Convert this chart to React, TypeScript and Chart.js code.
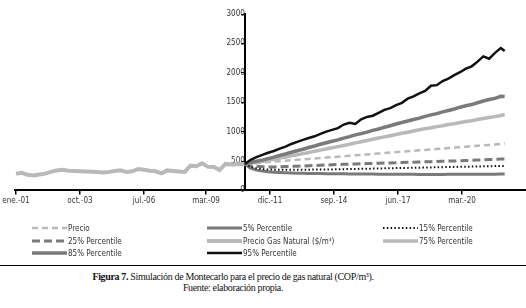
import React, { useEffect, useRef } from "react";
import { Chart, registerables } from "chart.js";

Chart.register(...registerables);

// ---- Data ----
const tickMonths = [0, 33, 66, 98, 131, 164, 197, 230];
const tickLabels = ["ene.-01", "oct.-03", "jul.-06", "mar.-09", "dic.-11", "sep.-14", "jun.-17", "mar.-20"];

const histMonths = [0, 3, 6, 9, 12, 15, 18, 21, 24, 27, 30, 33, 36, 39, 42, 45, 48, 51, 54, 57, 60, 63, 66, 69, 72, 75, 78, 81, 84, 87, 90, 93, 96, 99, 102, 105, 108, 111, 114, 118];
const histPrice = [285, 300, 265, 255, 270, 285, 315, 340, 350, 335, 330, 325, 322, 318, 312, 305, 315, 330, 342, 312, 325, 365, 350, 335, 325, 290, 340, 330, 322, 315, 420, 410, 460, 400, 398, 345, 450, 440, 445, 450];

const simMonths = [118, 121, 124, 127, 130, 133, 136, 139, 142, 145, 148, 151, 154, 157, 160, 163, 166, 169, 172, 175, 178, 181, 184, 187, 190, 193, 196, 199, 202, 205, 208, 211, 214, 217, 220, 223, 226, 229, 232, 235, 238, 241, 244, 247, 250, 252];

const precioMean = [450, 458, 466, 474, 482, 489, 497, 504, 512, 520, 528, 535, 543, 551, 558, 566, 574, 582, 589, 597, 604, 612, 620, 628, 635, 643, 651, 658, 666, 674, 681, 689, 697, 705, 712, 720, 728, 735, 743, 751, 758, 766, 774, 782, 789, 796];
const p5 = [450, 380, 345, 328, 318, 310, 304, 300, 296, 293, 291, 289, 287, 286, 285, 284, 283, 282, 281, 280, 279, 278, 277, 276, 275, 274, 274, 273, 273, 273, 272, 272, 272, 272, 272, 273, 273, 273, 273, 274, 274, 275, 276, 276, 277, 278];
const p15 = [450, 400, 375, 362, 356, 352, 350, 350, 350, 351, 352, 353, 354, 355, 356, 357, 359, 361, 363, 365, 367, 369, 371, 373, 375, 377, 379, 381, 383, 385, 387, 389, 391, 393, 395, 397, 399, 401, 403, 405, 407, 409, 411, 413, 415, 416];
const p25 = [450, 425, 410, 402, 400, 400, 402, 405, 408, 412, 415, 420, 424, 428, 432, 436, 440, 443, 447, 450, 453, 456, 459, 462, 465, 468, 471, 474, 477, 480, 483, 486, 489, 492, 495, 498, 501, 504, 508, 512, 516, 520, 524, 528, 532, 535];
const p75 = [450, 465, 480, 495, 512, 530, 550, 568, 588, 606, 625, 645, 665, 685, 705, 725, 745, 765, 785, 808, 828, 850, 870, 890, 910, 930, 950, 972, 990, 1010, 1030, 1048, 1065, 1085, 1100, 1120, 1135, 1155, 1170, 1185, 1205, 1222, 1240, 1255, 1275, 1290];
const p85 = [450, 475, 495, 515, 540, 565, 595, 620, 650, 675, 700, 730, 755, 785, 810, 835, 860, 890, 915, 945, 965, 990, 1020, 1045, 1075, 1100, 1130, 1155, 1180, 1205, 1230, 1260, 1285, 1305, 1335, 1360, 1385, 1415, 1440, 1460, 1490, 1520, 1545, 1565, 1600, 1595];
const p95 = [450, 520, 565, 605, 640, 670, 710, 745, 790, 825, 860, 890, 920, 960, 1000, 1030, 1060, 1120, 1150, 1130, 1210, 1250, 1270, 1320, 1370, 1400, 1450, 1490, 1560, 1600, 1650, 1690, 1780, 1790, 1860, 1900, 1960, 2010, 2070, 2110, 2190, 2280, 2240, 2340, 2420, 2370];

const LIGHT = "#b9b9b9";
const DARK = "#7a7a7a";
const BLACK = "#111111";
const FONT = "'Liberation Sans Narrow', 'DejaVu Sans Condensed', 'Liberation Sans', sans-serif";

function pts(xs: number[], ys: number[]) {
  return xs.map((x, i) => ({ x, y: ys[i] }));
}

const gridLegend = {
  id: "gridLegend",
  afterDraw(chart: any) {
    const ctx = chart.ctx as CanvasRenderingContext2D;
    const colX = [32, 207, 383];
    const rowY = [228, 241, 253];
    chart.data.datasets.forEach((ds: any, i: number) => {
      const x = colX[i % 3];
      const y = rowY[Math.floor(i / 3)];
      ctx.save();
      ctx.strokeStyle = ds.borderColor;
      ctx.lineWidth = ds.borderWidth;
      ctx.setLineDash(ds.borderDash || []);
      ctx.lineCap = "butt";
      ctx.beginPath();
      ctx.moveTo(x, y);
      ctx.lineTo(x + 35, y);
      ctx.stroke();
      ctx.setLineDash([]);
      ctx.fillStyle = "#333";
      ctx.font = "8px " + FONT;
      ctx.textBaseline = "middle";
      ctx.textAlign = "left";
      ctx.fillText(ds.label, x + 36, y + 0.5);
      ctx.restore();
    });
  },
};

export default function App() {
  const ref = useRef<HTMLCanvasElement | null>(null);

  useEffect(() => {
    if (!ref.current) return;
    const common = { pointRadius: 0, fill: false, tension: 0, borderCapStyle: "butt" as const };
    const chart = new Chart(ref.current, {
      type: "line",
      data: {
        datasets: [
          { ...common, label: "Precio", data: pts(simMonths, precioMean), borderColor: LIGHT, borderWidth: 2.5, borderDash: [6, 4], order: 5 },
          { ...common, label: "5% Percentile", data: pts(simMonths, p5), borderColor: DARK, borderWidth: 3, order: 7 },
          { ...common, label: "15% Percentile", data: pts(simMonths, p15), borderColor: BLACK, borderWidth: 2, borderDash: [1.5, 2.3], order: 3 },
          { ...common, label: "25% Percentile", data: pts(simMonths, p25), borderColor: DARK, borderWidth: 3, borderDash: [8, 4], order: 4 },
          { ...common, label: "Precio Gas Natural ($/m³)", data: pts(histMonths, histPrice), borderColor: LIGHT, borderWidth: 4, order: 6 },
          { ...common, label: "75% Percentile", data: pts(simMonths, p75), borderColor: LIGHT, borderWidth: 3.5, order: 2 },
          { ...common, label: "85% Percentile", data: pts(simMonths, p85), borderColor: DARK, borderWidth: 3.5, order: 1 },
          { ...common, label: "95% Percentile", data: pts(simMonths, p95), borderColor: BLACK, borderWidth: 2.5, order: 0 },
        ] as any,
      },
      options: {
        animation: false,
        responsive: false,
        events: [],
        layout: { padding: { left: 15, right: 0, top: 14, bottom: 54 } },
        plugins: { legend: { display: false }, tooltip: { enabled: false } },
        scales: {
          x: {
            type: "linear",
            min: -0.5,
            max: 263,
            afterBuildTicks: (axis: any) => {
              axis.ticks = tickMonths.map((v) => ({ value: v }));
            },
            ticks: {
              autoSkip: false,
              maxRotation: 0,
              padding: 2,
              color: "#333",
              font: { family: FONT, size: 8 },
              callback: (_v: any, i: number) => tickLabels[i],
            },
            grid: { drawOnChartArea: false, drawTicks: true, tickLength: 4, color: "#000", lineWidth: 1.5 },
            border: { display: true, color: "#000", width: 2 },
          },
          y: {
            type: "linear",
            min: 0,
            max: 3000,
            position: { x: 118 } as any,
            ticks: {
              stepSize: 500,
              padding: 4,
              color: "#333",
              font: { family: FONT, size: 8 },
              callback: (v: any) => String(v),
            },
            grid: { drawOnChartArea: false, drawTicks: true, tickLength: 3, color: "#000", lineWidth: 1 },
            border: { display: true, color: "#000", width: 2 },
          },
        },
      } as any,
      plugins: [gridLegend],
    });
    return () => chart.destroy();
  }, []);

  return (
    <div style={{ position: "absolute", left: 0, top: 0, width: 526, height: 308, background: "#fff", overflow: "hidden" }}>
      <canvas ref={ref} width={526} height={262} style={{ display: "block", width: 526, height: 262 }} />
      <div style={{ position: "absolute", left: 0, top: 265, width: 526, height: 0, borderTop: "1.5px solid #000" }} />
      <div
        style={{
          position: "absolute",
          left: 0,
          top: 271,
          width: 466,
          textAlign: "center",
          fontFamily: "'Liberation Serif', 'DejaVu Serif', serif",
          fontSize: 10,
          lineHeight: "11px",
          letterSpacing: "-0.35px",
          color: "#111",
        }}
      >
        <div>
          <b>Figura 7.</b> Simulación de Montecarlo para el precio de gas natural (COP/m³).
        </div>
        <div>Fuente: elaboración propia.</div>
      </div>
    </div>
  );
}
